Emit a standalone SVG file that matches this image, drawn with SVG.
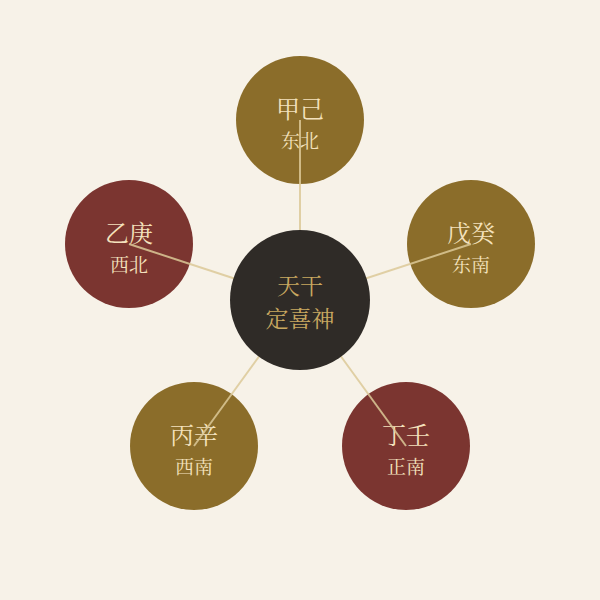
<svg xmlns="http://www.w3.org/2000/svg" width="600" height="600" viewBox="0 0 600 600">
<style>
.gold{fill:#8b6d2a}
.red{fill:#7b3530}
.center{fill:#2f2b27}
.t1{font-family:"Noto Serif CJK SC","Noto Sans CJK SC",serif;font-size:24px;fill:#f4e2bd;text-anchor:middle;dominant-baseline:central}
.t2{font-family:"Noto Serif CJK SC","Noto Sans CJK SC",serif;font-size:19px;fill:#f4e2bd;text-anchor:middle;dominant-baseline:central}
.c1{font-family:"Noto Serif CJK SC","Noto Sans CJK SC",serif;font-size:23px;fill:#c9a860;text-anchor:middle;dominant-baseline:central}
.conn line{stroke:#dcc998;stroke-width:2;stroke-opacity:0.85}
</style>
<rect width="600" height="600" fill="#f7f2e8"/>
<g id="node-jiaji"><circle class="gold" cx="300" cy="120" r="64"/><text class="t1" x="300" y="107">甲己</text><text class="t2" x="300" y="139">东北</text></g>
<g id="node-wugui"><circle class="gold" cx="471" cy="244" r="64"/><text class="t1" x="471" y="231">戊癸</text><text class="t2" x="471" y="263">东南</text></g>
<g id="node-dingren"><circle class="red" cx="406" cy="446" r="64"/><text class="t1" x="406" y="433">丁壬</text><text class="t2" x="406" y="465">正南</text></g>
<g id="node-bingxin"><circle class="gold" cx="194" cy="446" r="64"/><text class="t1" x="194" y="433">丙辛</text><text class="t2" x="194" y="465">西南</text></g>
<g id="node-yigeng"><circle class="red" cx="129" cy="244" r="64"/><text class="t1" x="129" y="231">乙庚</text><text class="t2" x="129" y="263">西北</text></g>
<g id="connectors" class="conn">
<line x1="300" y1="300" x2="300" y2="120"/>
<line x1="300" y1="300" x2="471" y2="244"/>
<line x1="300" y1="300" x2="406" y2="446"/>
<line x1="300" y1="300" x2="194" y2="446"/>
<line x1="300" y1="300" x2="129" y2="244"/>
</g>
<g id="node-center"><circle class="center" cx="300" cy="300" r="70"/><text class="c1" x="300" y="284">天干</text><text class="c1" x="300" y="317">定喜神</text></g>
</svg>
